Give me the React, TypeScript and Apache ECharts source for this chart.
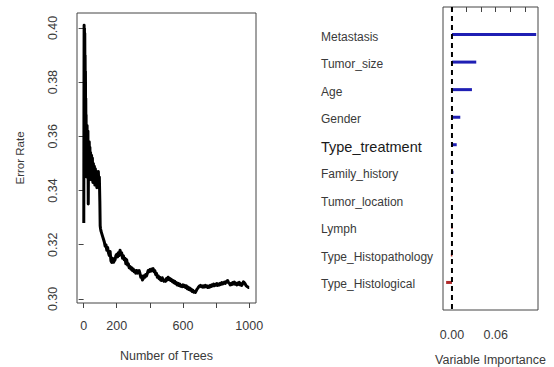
import React, { useEffect, useRef } from "react";
import * as echarts from "echarts";

// Left panel: OOB error rate vs number of trees
const errorCurve: [number, number][] = [
  [1, 0.328], [2, 0.372], [3, 0.401], [4, 0.392], [5, 0.4], [6, 0.385], [7, 0.398], [8, 0.38], [9, 0.39], [10, 0.375],
  [11, 0.384], [12, 0.366], [13, 0.374], [14, 0.36], [15, 0.368], [16, 0.352], [17, 0.362], [18, 0.345], [19, 0.358],
  [20, 0.35], [21, 0.364], [22, 0.348], [23, 0.36], [24, 0.354], [26, 0.362], [28, 0.335], [30, 0.356], [32, 0.346],
  [34, 0.358], [36, 0.35], [38, 0.356], [40, 0.347], [42, 0.354], [45, 0.344], [48, 0.353], [50, 0.346], [53, 0.352],
  [56, 0.343], [59, 0.35], [62, 0.344], [65, 0.349], [68, 0.342], [71, 0.348], [74, 0.343], [77, 0.347], [80, 0.341],
  [83, 0.346], [86, 0.343], [89, 0.347], [92, 0.342], [95, 0.345], [98, 0.336], [100, 0.327],
  [102, 0.326], [105, 0.325], [110, 0.324], [115, 0.323], [120, 0.322], [125, 0.321], [130, 0.3195], [135, 0.32],
  [140, 0.318], [145, 0.319], [150, 0.317], [155, 0.316], [160, 0.3175], [165, 0.314], [170, 0.3135], [175, 0.315],
  [180, 0.3135], [185, 0.314], [190, 0.3145], [195, 0.316], [200, 0.3165], [205, 0.3155], [210, 0.317], [215, 0.316],
  [220, 0.318], [225, 0.3165], [230, 0.317], [235, 0.315], [240, 0.316], [245, 0.3145], [250, 0.315], [255, 0.313],
  [260, 0.3145], [265, 0.3125], [270, 0.313], [275, 0.3115], [280, 0.312], [285, 0.311], [290, 0.3115], [295, 0.3105],
  [300, 0.311], [305, 0.31], [310, 0.3105], [315, 0.3095], [320, 0.3105], [325, 0.3095], [330, 0.31], [335, 0.3105],
  [340, 0.3095], [345, 0.308], [350, 0.3085], [355, 0.307], [360, 0.3075], [365, 0.3085], [370, 0.308], [375, 0.309],
  [380, 0.3085], [385, 0.3095], [390, 0.3105], [395, 0.31], [400, 0.3108], [405, 0.3102], [410, 0.311], [415, 0.3105],
  [420, 0.3112], [425, 0.31], [430, 0.3105], [435, 0.309], [440, 0.3095], [445, 0.308], [450, 0.3085], [455, 0.3075],
  [460, 0.308], [465, 0.307], [470, 0.3068], [475, 0.3078], [480, 0.307], [485, 0.3065], [490, 0.307], [495, 0.3065],
  [500, 0.3075], [505, 0.307], [510, 0.308], [515, 0.3072], [520, 0.3076], [525, 0.3068], [530, 0.3072], [535, 0.3064],
  [540, 0.3068], [545, 0.306], [550, 0.3065], [555, 0.3056], [560, 0.306], [565, 0.3052], [570, 0.3058], [575, 0.305],
  [580, 0.3055], [585, 0.3047], [590, 0.305], [595, 0.3045], [600, 0.3052], [605, 0.3046], [610, 0.305], [615, 0.3042],
  [620, 0.3048], [625, 0.3038], [630, 0.3044], [635, 0.3035], [640, 0.304], [645, 0.3032], [650, 0.3036], [655, 0.3028],
  [660, 0.3032], [665, 0.3025], [670, 0.3027], [675, 0.3024], [680, 0.303], [685, 0.3036], [690, 0.304], [695, 0.3045],
  [700, 0.3048], [705, 0.305], [710, 0.3045], [715, 0.3048], [720, 0.3043], [725, 0.3048], [730, 0.3044], [735, 0.305],
  [740, 0.3045], [745, 0.3048], [750, 0.3042], [755, 0.3047], [760, 0.3043], [765, 0.305], [770, 0.3046], [775, 0.3052],
  [780, 0.3048], [785, 0.3055], [790, 0.3049], [795, 0.3054], [800, 0.3051], [805, 0.3057], [810, 0.305], [815, 0.3055],
  [820, 0.3052], [825, 0.3058], [830, 0.3054], [835, 0.306], [840, 0.3055], [845, 0.3058], [850, 0.3062], [855, 0.3057],
  [860, 0.3063], [865, 0.3066], [870, 0.3068], [875, 0.306], [880, 0.3058], [885, 0.3052], [890, 0.3057], [895, 0.3053],
  [900, 0.306], [905, 0.3055], [910, 0.3062], [915, 0.3054], [920, 0.3058], [925, 0.3052], [930, 0.3059], [935, 0.3054],
  [940, 0.3061], [945, 0.3052], [950, 0.3057], [955, 0.305], [960, 0.3056], [965, 0.3063], [970, 0.306], [975, 0.3056],
  [980, 0.305], [985, 0.3047], [990, 0.3045], [995, 0.3042], [1000, 0.3042],
];

const treeTicks = [0, 200, 400, 600, 800, 1000];
const treeLabels = [0, 200, 600, 1000];
const errorTicks = [0.3, 0.32, 0.34, 0.36, 0.38, 0.4];

// Right panel: variable importance
const variables = [
  "Metastasis", "Tumor_size", "Age", "Gender", "Type_treatment",
  "Family_history", "Tumor_location", "Lymph", "Type_Histopathology", "Type_Histological",
];
const importance = [0.1155, 0.0333, 0.0274, 0.0114, 0.0065, 0.002, -0.0006, -0.001, -0.0015, -0.008];
const importanceTicks = [0, 0.02, 0.04, 0.06, 0.08, 0.1];
const importanceLabels = [0, 0.06];

const FONT = "Liberation Sans, Arial, sans-serif";
const TXT = "#3a3a3a";

export default function App() {
  const ref = useRef<HTMLDivElement>(null);
  useEffect(() => {
    if (!ref.current) return;
    const chart = echarts.init(ref.current, null, { renderer: "svg" });
    const rowIdx = variables.map((_, i) => i + 1);
    chart.setOption({
      animation: false,
      backgroundColor: "#ffffff",
      textStyle: { fontFamily: FONT },
      grid: [
        {
          left: 77, right: 298, top: 13, bottom: 64, show: true, borderColor: "#444", borderWidth: 1,
          backgroundColor: "transparent", containLabel: false, outerBoundsMode: "none",
        },
        {
          left: 443, right: 16, top: 7, bottom: 57, show: true, borderColor: "#444", borderWidth: 1,
          backgroundColor: "transparent", containLabel: false, outerBoundsMode: "none",
        },
      ],
      xAxis: [
        {
          type: "value", gridIndex: 0, min: -39.96, max: 1040.96,
          name: "Number of Trees", nameLocation: "middle", nameGap: 46,
          nameTextStyle: { fontSize: 12.5, color: TXT, fontFamily: FONT },
          axisLine: { show: false },
          splitLine: { show: false },
          axisTick: { show: true, inside: false, length: 5, customValues: treeTicks, lineStyle: { color: "#444" } },
          axisLabel: {
            customValues: treeLabels, fontSize: 12.5, color: TXT, margin: 16, fontFamily: FONT,
            formatter: (v: number) => String(v),
          },
        },
        {
          type: "value", gridIndex: 1, min: -0.0123, max: 0.118,
          name: "Variable Importance", nameLocation: "middle", nameGap: 43,
          nameTextStyle: { fontSize: 12.5, color: TXT, fontFamily: FONT },
          axisLine: { show: false },
          splitLine: { show: false },
          axisTick: { show: true, length: 5, customValues: importanceTicks, lineStyle: { color: "#444" } },
          axisLabel: {
            customValues: importanceLabels, fontSize: 12.5, color: TXT, margin: 18, fontFamily: FONT,
            formatter: (v: number) => v.toFixed(2),
          },
        },
      ],
      yAxis: [
        {
          type: "value", gridIndex: 0, min: 0.2985, max: 0.4055,
          name: "Error Rate", nameLocation: "middle", nameGap: 51, nameRotate: 90,
          nameTextStyle: { fontSize: 11.5, color: TXT, fontFamily: FONT },
          axisLine: { show: false },
          splitLine: { show: false },
          axisTick: { show: true, length: 5, customValues: errorTicks, lineStyle: { color: "#444" } },
          axisLabel: {
            customValues: errorTicks, rotate: 90, fontSize: 12.5, color: TXT, margin: 18, fontFamily: FONT,
            formatter: (v: number) => v.toFixed(2),
          },
        },
        {
          type: "value", gridIndex: 1, min: 0, max: 11, inverse: true,
          axisLine: { show: false },
          splitLine: { show: false },
          axisTick: { show: false },
          axisLabel: {
            customValues: rowIdx, align: "left", margin: 122, fontSize: 12, color: TXT, fontFamily: FONT,
            padding: [4, 0, 0, 0],
            formatter: (v: number) => {
              const name = variables[Math.round(v) - 1] || "";
              return name === "Type_treatment" ? "{big|" + name + "}" : name;
            },
            rich: { big: { fontSize: 14.5, color: "#1a1a1a", fontFamily: FONT } },
          },
        },
      ],
      series: [
        {
          type: "line", xAxisIndex: 0, yAxisIndex: 0,
          data: errorCurve, symbol: "none",
          lineStyle: { color: "#000", width: 3, join: "round" },
        },
        {
          type: "line", xAxisIndex: 1, yAxisIndex: 1,
          data: [[0, 0], [0, 11]], symbol: "none", silent: true,
          lineStyle: { color: "#000", width: 2, type: [5, 4] },
        },
        {
          type: "custom", xAxisIndex: 1, yAxisIndex: 1,
          data: importance.map((v, i) => [v, i + 1]),
          encode: { x: 0, y: 1 },
          renderItem: (params: any, api: any) => {
            const v = api.value(0);
            const r = api.value(1);
            const p0 = api.coord([0, r]);
            const p1 = api.coord([v, r]);
            return {
              type: "rect",
              shape: { x: Math.min(p0[0], p1[0]), y: p0[1] - 1.5, width: Math.max(Math.abs(p1[0] - p0[0]), 1.5), height: 3 },
              style: { fill: v >= 0 ? "#1f1fb4" : "#b02a2a" },
            };
          },
        },
      ],
    });
    return () => chart.dispose();
  }, []);
  return <div ref={ref} style={{ position: "fixed", left: 0, top: 0, width: 554, height: 367 }} />;
}
